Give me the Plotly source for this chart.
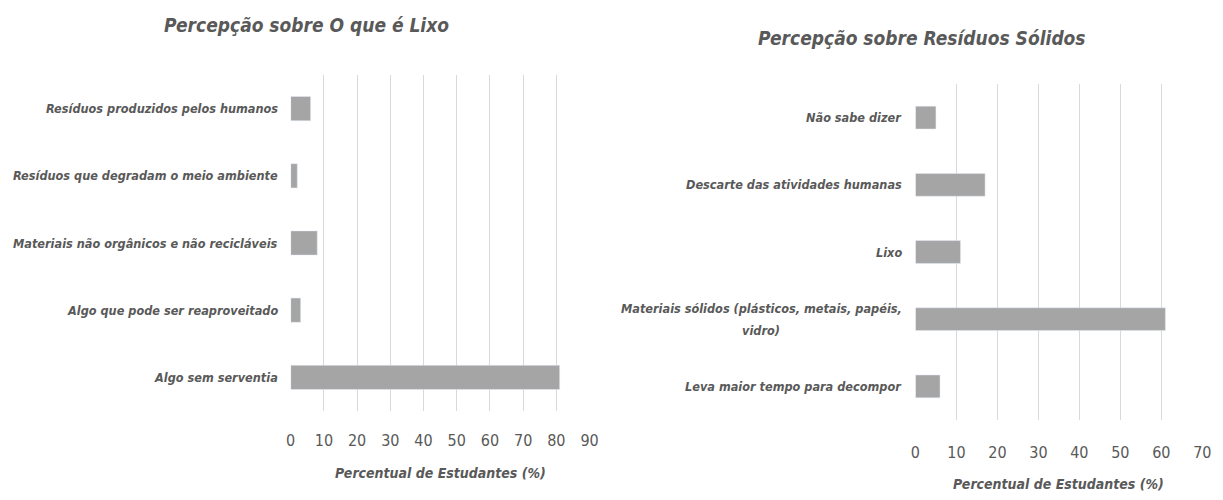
import plotly.graph_objects as go

# ---- data ----
cats_lixo = [
    "Resíduos produzidos pelos humanos",
    "Resíduos que degradam o meio ambiente",
    "Materiais não orgânicos e não recicláveis",
    "Algo que pode ser reaproveitado",
    "Algo sem serventia",
]
vals_lixo = [6, 2, 8, 3, 81]

cats_res = [
    "Não sabe dizer",
    "Descarte das atividades humanas",
    "Lixo",
    "Materiais sólidos (plásticos, metais, papéis,<br>vidro)",
    "Leva maior tempo para decompor",
]
vals_res = [5, 17, 11, 61, 6]

title_lixo = "Percepção sobre O que é Lixo"
title_res = "Percepção sobre Resíduos Sólidos"
xtitle = "Percentual de Estudantes (%)"
ticks_lixo = list(range(0, 91, 10))
ticks_res = list(range(0, 71, 10))

# page has an 8px body margin: size the figure so the page is 1223x500
OFF = 8
FW, FH = 1223 - 2 * OFF, 500 - 2 * OFF
FONT = "DejaVu Sans Condensed, sans-serif"
TXT = "#595959"
BAR = "#a5a5a5"
GRID = "#d9d9d9"

fig = go.Figure()
fig.add_trace(go.Bar(x=vals_lixo, y=cats_lixo, orientation="h", marker_color=BAR,
                     width=0.36, xaxis="x", yaxis="y", showlegend=False))
fig.add_trace(go.Bar(x=vals_res, y=cats_res, orientation="h", marker_color=BAR,
                     width=0.34, xaxis="x2", yaxis="y2", showlegend=False))


def px_x(p):
    # screen x -> paper fraction (empirical mapping of the photographed page)
    return ((p - 12.2) / 0.9888) / FW


def px_y(p):
    return 1 - (p - OFF) / FH


common_x = dict(showgrid=True, gridcolor=GRID, gridwidth=1.4, zeroline=False,
                showline=False, ticks="", tickfont=dict(family=FONT, size=16, color=TXT),
                fixedrange=True)
common_y = dict(showticklabels=False, showgrid=False, zeroline=False, showline=False,
                ticks="", autorange="reversed", fixedrange=True)

fig.update_layout(
    width=FW, height=FH,
    margin=dict(l=0, r=0, t=0, b=0),
    paper_bgcolor="white", plot_bgcolor="white",
    xaxis=dict(domain=[px_x(290), px_x(589)], range=[0, 90], tickvals=ticks_lixo,
               anchor="y", ticklabelstandoff=18, **common_x),
    yaxis=dict(domain=[px_y(411), px_y(75)], anchor="x", **common_y),
    xaxis2=dict(domain=[px_x(915), px_x(1202)], range=[0, 70], tickvals=ticks_res,
                anchor="y2", ticklabelstandoff=21, **common_x),
    yaxis2=dict(domain=[px_y(420), px_y(84)], anchor="x2", **common_y),
)

lab_font = dict(family=FONT, size=12.6, color=TXT, style="italic", weight="bold")
for c in cats_lixo:
    fig.add_annotation(x=0, xref="x domain", y=c, yref="y", text=c, showarrow=False,
                       xanchor="right", yanchor="middle", xshift=-11, align="right",
                       font=lab_font)
for c in cats_res:
    lines = c.split("<br>")
    if len(lines) == 1:
        fig.add_annotation(x=0, xref="x2 domain", y=c, yref="y2", text=c, showarrow=False,
                           xanchor="right", yanchor="middle", xshift=-11, align="right",
                           font=lab_font)
    else:
        # two-line label: wider line spacing, second line centred under the first
        fig.add_annotation(x=0, xref="x2 domain", y=c, yref="y2", text=lines[0],
                           showarrow=False, xanchor="right", yanchor="middle",
                           xshift=-11, yshift=11, font=lab_font)
        fig.add_annotation(x=0, xref="x2 domain", y=c, yref="y2", text=lines[1],
                           showarrow=False, xanchor="center", yanchor="middle",
                           xshift=-154, yshift=-11, font=lab_font)

title_font = dict(family=FONT, size=19, color=TXT, style="italic", weight="bold")
fig.add_annotation(x=px_x(306), y=px_y(25), xref="paper", yref="paper", text=title_lixo,
                   showarrow=False, xanchor="center", yanchor="middle", font=title_font)
fig.add_annotation(x=px_x(922), y=px_y(38), xref="paper", yref="paper", text=title_res,
                   showarrow=False, xanchor="center", yanchor="middle", font=title_font)

axt_font = dict(family=FONT, size=14, color=TXT, style="italic", weight="bold")
fig.add_annotation(x=px_x(440), y=px_y(473), xref="paper", yref="paper", text=xtitle,
                   showarrow=False, xanchor="center", yanchor="middle", font=axt_font)
fig.add_annotation(x=px_x(1058), y=px_y(484), xref="paper", yref="paper", text=xtitle,
                   showarrow=False, xanchor="center", yanchor="middle", font=axt_font)

fig.write_html("out.html")
